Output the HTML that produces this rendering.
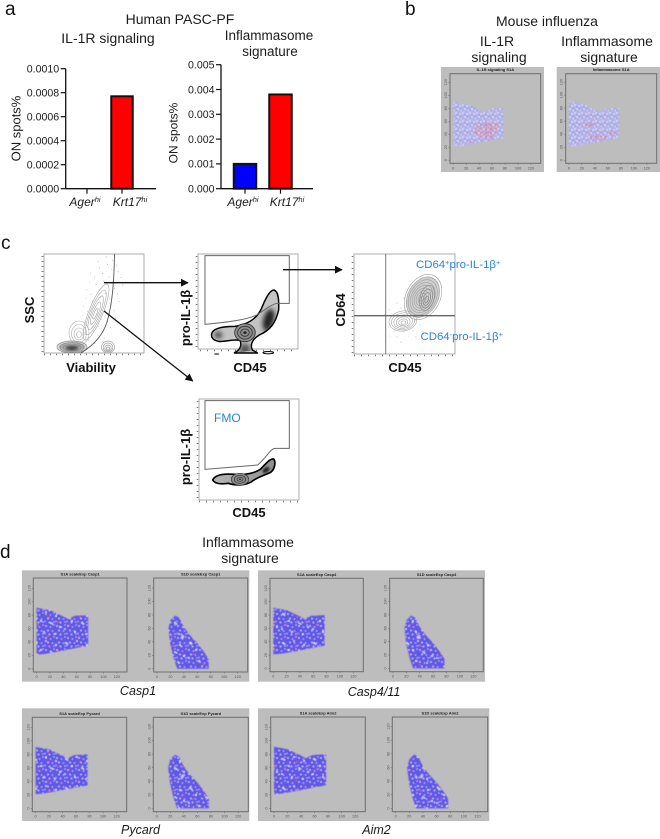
<!DOCTYPE html>
<html lang="en">
<head>
<meta charset="utf-8">
<title>Human PASC-PF and mouse influenza figure</title>
<style>
html,body{margin:0;padding:0;background:#fff;}
svg{display:block;font-family:"Liberation Sans",Arial,sans-serif;}
.ttl{font-size:14px;fill:#1c1c1c;text-anchor:middle;}
.letter{font-size:19px;fill:#111;}
.flowlab{font-size:13px;font-weight:bold;fill:#111;text-anchor:middle;}
.blue{font-size:11.4px;fill:#2a86d2;}
.gene{font-size:12.5px;font-style:italic;fill:#1c1c1c;text-anchor:middle;}
</style>
</head>
<body>
<svg id="fig" width="660" height="839" viewBox="0 0 660 839" xmlns="http://www.w3.org/2000/svg">
<defs>
  <pattern id="speckD" width="11" height="12" patternUnits="userSpaceOnUse">
    <rect width="11" height="12" fill="#6258e6"/>
    <g fill="#ffffff">
      <circle cx="2" cy="2" r=".65"/><circle cx="6.500" cy="3" r=".55"/><circle cx="10" cy="1" r=".5"/><circle cx="4" cy="6.500" r=".65"/>
      <circle cx="8.500" cy="7" r=".55"/><circle cx="1" cy="9.500" r=".5"/><circle cx="5.500" cy="10.500" r=".65"/><circle cx="10" cy="10" r=".5"/>
    </g>
  </pattern>
  <pattern id="speckO" width="31" height="29" patternUnits="userSpaceOnUse">
    <g fill="#ffffff">
      <circle cx="4" cy="5" r=".9"/><circle cx="5.500" cy="6" r=".7"/><circle cx="15" cy="3" r=".8"/><circle cx="25" cy="7" r=".9"/>
      <circle cx="10" cy="12" r=".9"/><circle cx="20" cy="14" r=".8"/><circle cx="21.500" cy="15" r=".7"/><circle cx="29" cy="18" r=".9"/>
      <circle cx="3" cy="20" r=".8"/><circle cx="13" cy="23" r=".9"/><circle cx="24" cy="25" r=".8"/>
    </g>
    <g fill="#ee5f70"><circle cx="18" cy="8" r=".8"/><circle cx="7" cy="16" r=".7"/><circle cx="27" cy="13" r=".7"/><circle cx="17" cy="27" r=".7"/></g>
  </pattern>
  <pattern id="speckB" width="7" height="8" patternUnits="userSpaceOnUse">
    <rect width="7" height="8" fill="#b4b3e8"/>
    <g fill="#f4f2fb"><circle cx="1" cy="1" r=".8"/><circle cx="5" cy="2" r=".7"/><circle cx="3" cy="5" r=".8"/><circle cx="6.500" cy="6.500" r=".6"/></g>
    <g fill="#6f6cd8"><circle cx="3" cy="2.500" r=".5"/><circle cx="1" cy="6" r=".5"/><circle cx="5.500" cy="4.500" r=".5"/></g>
  </pattern>
  <pattern id="speckR" width="5" height="4" patternUnits="userSpaceOnUse">
    <circle cx="1" cy="1" r="1" fill="#ee6a72"/><circle cx="3.500" cy="3" r=".9" fill="#f08a84"/>
  </pattern>
  <pattern id="stipple" width="19" height="17" patternUnits="userSpaceOnUse">
    <g fill="#666"><circle cx="2" cy="2" r=".4"/><circle cx="9" cy="4" r=".35"/><circle cx="5" cy="9" r=".4"/><circle cx="14" cy="8" r=".35"/><circle cx="17" cy="14" r=".4"/><circle cx="10" cy="13" r=".3"/></g>
  </pattern>
  <filter id="soft" x="-5%" y="-5%" width="110%" height="110%"><feGaussianBlur stdDeviation="0.4"/></filter>
  <filter id="soft2" x="-20%" y="-20%" width="140%" height="140%"><feGaussianBlur stdDeviation="3"/></filter>
  <filter id="soft3" x="-50%" y="-50%" width="200%" height="200%"><feGaussianBlur stdDeviation="7"/></filter>
  <filter id="soft1" x="-20%" y="-20%" width="140%" height="140%"><feGaussianBlur stdDeviation="1.3"/></filter>
  <marker id="arrowhead" viewBox="0 0 10 10" refX="9" refY="5" markerWidth="8" markerHeight="8" markerUnits="userSpaceOnUse" orient="auto"><path d="M0 0L10 5L0 10Z" fill="#111"/></marker>
</defs>

<!-- Panel letters -->
<text class="letter" x="5" y="15">a</text>
<text class="letter" x="405" y="15">b</text>
<text class="letter" x="1" y="249">c</text>
<text class="letter" x="0" y="558">d</text>

<!-- Titles -->
<text class="ttl" x="180" y="24">Human PASC-PF</text>
<text class="ttl" x="108" y="43">IL-1R signaling</text>
<text class="ttl" x="269" y="40" style="font-size:13.5px">Inflammasome</text>
<text class="ttl" x="270" y="56" style="font-size:13.5px">signature</text>
<text class="ttl" x="547" y="26">Mouse influenza</text>
<text class="ttl" x="497" y="46">IL-1R</text>
<text class="ttl" x="499" y="62">signaling</text>
<text class="ttl" x="607" y="46">Inflammasome</text>
<text class="ttl" x="609" y="62">signature</text>
<text class="ttl" x="248" y="547">Inflammasome</text>
<text class="ttl" x="250" y="563">signature</text>

<g id="barLayer"></g>
<g id="spatialLayer"></g>

<!-- Flow plot 1 -->
<g>
  <clipPath id="clipF1"><rect x="44" y="254" width="100" height="99"/></clipPath>
  <rect x="44" y="254" width="100" height="99" fill="#fff" stroke="#9a9a9a" stroke-width=".8"/>
  <g clip-path="url(#clipF1)">
    <ellipse cx="102" cy="300" rx="20" ry="48" fill="url(#stipple)" transform="rotate(12 102 300)"/>
    <g id="contoursF1"></g>
    <ellipse cx="72" cy="347" rx="14" ry="5" fill="#8a8a8a" opacity=".75" filter="url(#soft1)"/>
    <ellipse cx="72" cy="348" rx="6" ry="2" fill="#3c3c3c" filter="url(#soft1)"/>
    <path d="M114.500 254C114 285 112 305 107 322C103 335 94 345 81 353" fill="none" stroke="#555" stroke-width=".9"/>
  </g>
  <line x1="42.500" y1="256" x2="42.500" y2="353" stroke="#888" stroke-width="2" stroke-dasharray="1 4"/>
  <line x1="44" y1="354.500" x2="144" y2="354.500" stroke="#777" stroke-width="1.600" stroke-dasharray="1 5"/>
</g>

<!-- Flow plot 2 -->
<g>
  <rect x="198" y="254" width="100" height="95" fill="#fff" stroke="#9a9a9a" stroke-width=".8"/>
  <g transform="translate(0 235) scale(.3333)">
    <path d="M635 297C638 280 665 274 705 274C745 268 775 250 788 212C798 188 810 165 822 165C836 170 837 195 836 225C828 262 812 285 778 300C758 312 748 330 758 346C768 350 772 352 772 354L702 354C722 345 726 330 720 316C695 312 675 322 655 319C640 316 633 308 635 297Z" fill="#c4c4c4" stroke="#000" stroke-width="4.500"/>
    <clipPath id="clipBlob2"><path d="M635 297C638 280 665 274 705 274C745 268 775 250 788 212C798 188 810 165 822 165C836 170 837 195 836 225C828 262 812 285 778 300C758 312 748 330 758 346L702 354C722 345 726 330 720 316C695 312 675 322 655 319C640 316 633 308 635 297Z"/></clipPath>
    <g clip-path="url(#clipBlob2)">
      <ellipse cx="806" cy="255" rx="16" ry="34" fill="#222" filter="url(#soft3)" transform="rotate(15 806 255)"/>
      <ellipse cx="655" cy="300" rx="12" ry="10" fill="#444" filter="url(#soft3)"/>
      <ellipse cx="735" cy="345" rx="16" ry="20" fill="#555" filter="url(#soft3)"/>
    </g>
    <path d="M615 62H868V205H830C810 210 795 225 770 240C740 255 680 262 615 268Z" fill="none" stroke="#666" stroke-width="3"/>
    <ellipse cx="735" cy="293" rx="31" ry="27" fill="#8c8c8c" stroke="#333" stroke-width="2.500"/>
    <ellipse cx="735" cy="293" rx="22" ry="19" fill="none" stroke="#333" stroke-width="2.500"/>
    <ellipse cx="735" cy="293" rx="13" ry="11" fill="none" stroke="#333" stroke-width="2.500"/>
    <ellipse cx="735" cy="293" rx="5" ry="4" fill="#222"/>
    <ellipse cx="805" cy="353" rx="16" ry="3.500" fill="none" stroke="#000" stroke-width="3"/>
    <ellipse cx="650" cy="357" rx="8" ry="2" fill="#222"/>
  </g>
  <line x1="196.500" y1="256" x2="196.500" y2="349" stroke="#777" stroke-width="1.600" stroke-dasharray="1 5"/>
  <line x1="200" y1="350.500" x2="298" y2="350.500" stroke="#777" stroke-width="1.600" stroke-dasharray="1 6"/>
</g>

<!-- Flow plot 3 -->
<g>
  <clipPath id="clipF3"><rect x="354" y="254" width="101" height="100"/></clipPath>
  <rect x="354" y="254" width="101" height="100" fill="#fff" stroke="#9a9a9a" stroke-width=".8"/>
  <g clip-path="url(#clipF3)">
    <ellipse cx="405" cy="320" rx="22" ry="24" fill="url(#stipple)"/>
    <ellipse cx="423" cy="297" rx="15" ry="22" fill="#cfcfcf" transform="rotate(28 423 297)"/>
    <g id="contoursF3"></g>
  </g>
  <line x1="385.700" y1="254" x2="385.700" y2="354" stroke="#777" stroke-width="1"/>
  <line x1="354" y1="315.700" x2="455" y2="315.700" stroke="#666" stroke-width="1.300"/>
  <line x1="352.500" y1="256" x2="352.500" y2="354" stroke="#777" stroke-width="1.600" stroke-dasharray="1 5"/>
  <line x1="354" y1="355.500" x2="455" y2="355.500" stroke="#777" stroke-width="1.600" stroke-dasharray="1 6"/>
</g>

<!-- Flow plot 4 -->
<g>
  <linearGradient id="g4" x1="0" y1="0" x2="1" y2="0"><stop offset="0" stop-color="#b5b5b5"/><stop offset="1" stop-color="#8f8f8f"/></linearGradient>
  <rect x="199" y="399" width="100" height="101" fill="#fff" stroke="#9a9a9a" stroke-width=".8"/>
  <g transform="translate(160 385) scale(.3333)">
    <path d="M135 47H388V190H345C330 192 322 215 293 240L135 253Z" fill="none" stroke="#666" stroke-width="3"/>
    <path d="M158 285C165 270 190 265 225 268C255 270 285 265 302 252C318 236 330 220 341 222C348 230 345 252 332 262C310 272 290 278 275 290C255 302 225 302 205 295C185 298 165 298 158 285Z" fill="url(#g4)" stroke="#000" stroke-width="5"/>
    <ellipse cx="240" cy="283" rx="26" ry="18" fill="#8a8a8a" stroke="#333" stroke-width="2"/>
    <ellipse cx="240" cy="283" rx="17" ry="12" fill="none" stroke="#333" stroke-width="2"/>
    <ellipse cx="240" cy="283" rx="9" ry="6" fill="none" stroke="#333" stroke-width="2"/>
    <ellipse cx="240" cy="283" rx="3" ry="2" fill="#222"/>
    <ellipse cx="318" cy="255" rx="12" ry="7" fill="#222" transform="rotate(-40 318 255)" filter="url(#soft2)"/>
  </g>
  <line x1="197.500" y1="401" x2="197.500" y2="500" stroke="#777" stroke-width="1.600" stroke-dasharray="1 5"/>
  <line x1="199" y1="501.500" x2="299" y2="501.500" stroke="#777" stroke-width="1.600" stroke-dasharray="1 6"/>
</g>

<!-- Flow labels -->
<text class="flowlab" transform="translate(34 310) rotate(-90)">SSC</text>
<text class="flowlab" x="91" y="372">Viability</text>
<text class="flowlab" transform="translate(190 318) rotate(-90)">pro-IL-1β</text>
<text class="flowlab" x="250" y="372">CD45</text>
<text class="flowlab" transform="translate(345 310) rotate(-90)">CD64</text>
<text class="flowlab" x="405" y="372">CD45</text>
<text class="flowlab" transform="translate(190 457) rotate(-90)">pro-IL-1β</text>
<text class="flowlab" x="249" y="517">CD45</text>
<text class="blue" x="416" y="268">CD64<tspan dy="-3" font-size="7.500">+</tspan><tspan dy="3">pro-IL-1β</tspan><tspan dy="-3" font-size="7.500">+</tspan></text>
<text class="blue" x="420.500" y="340">CD64<tspan dy="-3" font-size="7.500">-</tspan><tspan dy="3">pro-IL-1β</tspan><tspan dy="-3" font-size="7.500">+</tspan></text>
<text class="blue" x="214" y="422" style="font-size:12px">FMO</text>

<!-- Arrows -->
<line x1="104" y1="282.700" x2="188" y2="282.700" stroke="#111" stroke-width="1.300" marker-end="url(#arrowhead)"/>
<line x1="104" y1="311" x2="192.700" y2="381" stroke="#111" stroke-width="1.300" marker-end="url(#arrowhead)"/>
<line x1="283" y1="269.700" x2="342" y2="269.700" stroke="#111" stroke-width="1.300" marker-end="url(#arrowhead)"/>

<!-- Gene names -->
<text class="gene" x="138" y="695">Casp1</text>
<text class="gene" x="374" y="696">Casp4/11</text>
<text class="gene" x="140.500" y="834">Pycard</text>
<text class="gene" x="376.500" y="834">Aim2</text>

<script>
// ---- bar chart data ----
const barCategories = ['Ager', 'Krt17'];
const il1rValues = [0, 0.00077];
const inflammasomeValues = [0.001, 0.0038];
const il1rTicks = ['0.0000', '0.0002', '0.0004', '0.0006', '0.0008', '0.0010'];
const inflammasomeTicks = ['0.000', '0.001', '0.002', '0.003', '0.004', '0.005'];
const barColors = ['#0000ff', '#ff0000'];

// ---- spatial tissue outlines, in plot units (x, y pairs) ----
const tissueS1A = [[0,91],[20,87.5],[40,78],[47,74],[57,79],[77,80],[77,34],[60,31],[35,26],[12,22],[0,21]];
const tissueS1D = [[17,60],[20,72],[27,79],[33,76],[40,62],[48,51],[60,38],[70,25],[77,14],[77,0],[30,0],[25,15],[20,35],[18,50]];
const tissueS1DHole = [38, 47];
const spatialAxisTicks = [0, 20, 40, 60, 80, 100, 120];

const NS = 'http://www.w3.org/2000/svg';
function mk(tag, parent, attrs) {
  const el = document.createElementNS(NS, tag);
  for (const k in attrs) el.setAttribute(k, attrs[k]);
  parent.appendChild(el);
  return el;
}

function drawBarChart(parent, name, values, ticks, left, right, top, bottom, centers, barW, labelCenters, titleX, titleY, titleSize) {
  const g = mk('g', parent, {});
  
  
  const maxV = parseFloat(ticks[ticks.length - 1]);
  const yScale = function (v) { return bottom - (v / maxV) * (bottom - top); };
  values.forEach(function (v, i) {
    if (v <= 0) return;
    const bar = mk('rect', g, {
      x: centers[i] - barW / 2, y: yScale(v), width: barW, height: bottom - yScale(v),
      fill: barColors[i], stroke: '#111', 'stroke-width': 2
    });
    
    
  });
  const yAxis = mk('line', g, { x1: left, y1: top, x2: left, y2: bottom, stroke: '#111', 'stroke-width': 1.3 });
  
  
  const xAxis = mk('line', g, { x1: left, y1: bottom, x2: right, y2: bottom, stroke: '#111', 'stroke-width': 1.3 });
  
  
  ticks.forEach(function (t) {
    const y = yScale(parseFloat(t));
    const tick = mk('line', g, { x1: left - 5, y1: y, x2: left, y2: y, stroke: '#111', 'stroke-width': 1.2 });
    
    
    const lab = mk('text', g, { x: left - 6.5, y: y + 3.8, 'text-anchor': 'end', 'font-size': 10.6, fill: '#1c1c1c' });
    lab.textContent = t;
    
    
  });
  barCategories.forEach(function (c, i) {
    const tick = mk('line', g, { x1: centers[i], y1: bottom, x2: centers[i], y2: bottom + 5, stroke: '#111', 'stroke-width': 1.2 });
    
    
    const lab = mk('text', g, { x: labelCenters[i], y: 206, 'text-anchor': 'middle', 'font-size': 12, 'font-style': 'italic', fill: '#1c1c1c' });
    
    
    lab.appendChild(document.createTextNode(c));
    const sup = mk('tspan', lab, { dy: -4, 'font-size': 7.5 });
    sup.textContent = 'hi';
  });
  const yt = mk('text', g, {
    transform: 'translate(' + titleX + ' ' + titleY + ') rotate(-90)',
    'text-anchor': 'middle', 'font-size': titleSize, fill: '#1c1c1c'
  });
  yt.textContent = 'ON spots%';
  
  
}

const barLayer = document.getElementById('barLayer');
drawBarChart(barLayer, 'il1r-bar-chart', il1rValues, il1rTicks, 65.7, 156, 68.7, 188.7, [87, 122], 21.5, [85, 130], 20.5, 128.5, 13);
drawBarChart(barLayer, 'inflammasome-bar-chart', inflammasomeValues, inflammasomeTicks, 221, 313, 64.7, 188.7, [245, 280.5], 22.5, [243, 287], 177.5, 133, 12);

// ---- spatial plots ----
let clipCounter = 0;
function drawSpatial(parent, name, title, shape, speckle, left, right, top, bottom, hot, hole) {
  const g = mk('g', parent, {});
  
  
  const frame = mk('rect', g, { x: left, y: top, width: right - left, height: bottom - top, fill: 'none', stroke: '#6e6e6e', 'stroke-width': 1 });
  
  
  const unit = (right - left) * 0.00715;
  const xs = function (u) { return left + (right - left) * 0.035 + u * unit; };
  const ys = function (u) { return bottom - (bottom - top) * 0.035 - u * unit; };
  const pts = shape.map(function (p) { return xs(p[0]).toFixed(1) + ',' + ys(p[1]).toFixed(1); }).join(' ');
  const id = 'tissueClip' + (clipCounter++);
  const cp = mk('clipPath', g, { id: id });
  mk('polygon', cp, { points: pts });
  const tissueGroup = mk('g', g, { filter: 'url(#soft)' });
  const tissue = mk('polygon', tissueGroup, { points: pts, fill: 'url(#' + speckle + ')' });
  
  
  if (speckle === 'speckD') {
    mk('polygon', tissueGroup, { points: pts, fill: 'url(#speckO)' });
  }
  if (hole) {
    mk('ellipse', tissueGroup, { cx: xs(hole[0]), cy: ys(hole[1]), rx: 1.4, ry: 2.2, fill: '#c9c6ec', transform: 'rotate(30 ' + xs(hole[0]) + ' ' + ys(hole[1]) + ')' });
  }
  if (hot) {
    const hg = mk('g', tissueGroup, { 'clip-path': 'url(#' + id + ')' });
    hot.forEach(function (h) {
      mk('ellipse', hg, { cx: xs(h[0]), cy: ys(h[1]), rx: h[2], ry: h[3], fill: 'url(#speckR)' });
    });
  }
  spatialAxisTicks.forEach(function (t) {
    mk('line', g, { x1: xs(t), y1: bottom, x2: xs(t), y2: bottom + 1.6, stroke: '#666', 'stroke-width': 0.5 });
    mk('line', g, { x1: left - 1.6, y1: ys(t), x2: left, y2: ys(t), stroke: '#666', 'stroke-width': 0.5 });
    const xl = mk('text', g, { x: xs(t), y: bottom + 6, 'text-anchor': 'middle', 'font-size': 3.8, fill: '#555' });
    xl.textContent = t;
    
    
    const yl = mk('text', g, { transform: 'translate(' + (left - 3) + ' ' + ys(t) + ') rotate(-90)', 'text-anchor': 'middle', 'font-size': 3.8, fill: '#555' });
    yl.textContent = t;
    
    
  });
  const tl = mk('text', g, { x: (left + right) / 2, y: top - 2.5, 'text-anchor': 'middle', 'font-size': 4, 'font-weight': 'bold', fill: '#222' });
  tl.textContent = title;
  
  
}

function grayPanel(parent, name, x, y, w, h) {
  const r = mk('rect', parent, { x: x, y: y, width: w, height: h, fill: '#bdbdbd' });
  
  
}

const sl = document.getElementById('spatialLayer');
grayPanel(sl, 'mouse-il1r-background', 441, 67, 103, 105);
grayPanel(sl, 'mouse-inflammasome-background', 556.7, 67, 103.3, 105);
grayPanel(sl, 'casp1-background', 22, 570.3, 227.3, 111.4);
grayPanel(sl, 'casp4-background', 258, 570.3, 227, 111.4);
grayPanel(sl, 'pycard-background', 22, 708.3, 227.3, 112.7);
grayPanel(sl, 'aim2-background', 258, 708.3, 231.3, 112.7);

drawSpatial(sl, 'mouse-il1r-plot', 'IL-1R signaling S1A', tissueS1A, 'speckB', 450, 540.7, 73.7, 163.3,
  [[50, 45, 11, 8], [28, 25, 3, 3], [60, 52, 7, 5]]);
drawSpatial(sl, 'mouse-inflammasome-plot', 'Inflammasome S1A', tissueS1A, 'speckB', 565.7, 656.7, 73.7, 163.3,
  [[30, 55, 6, 3], [45, 35, 9, 3], [68, 40, 3, 3]]);
drawSpatial(sl, 'casp1-s1a-plot', 'S1A scaleExp Casp1', tissueS1A, 'speckD', 33.3, 127, 578, 672);
drawSpatial(sl, 'casp1-s1d-plot', 'S1D scaleExp Casp1', tissueS1D, 'speckD', 153.7, 247.7, 578, 672, null, tissueS1DHole);
drawSpatial(sl, 'casp4-s1a-plot', 'S1A scaleExp Casp4', tissueS1A, 'speckD', 270, 363.3, 578.3, 671.7);
drawSpatial(sl, 'casp4-s1d-plot', 'S1D scaleExp Casp4', tissueS1D, 'speckD', 389.7, 483.3, 578.3, 671.7, null, tissueS1DHole);
drawSpatial(sl, 'pycard-s1a-plot', 'S1A scaleExp Pycard', tissueS1A, 'speckD', 32.3, 126.7, 717.3, 811.7);
drawSpatial(sl, 'pycard-s1d-plot', 'S1D scaleExp Pycard', tissueS1D, 'speckD', 153.3, 248.3, 717.3, 811.7, null, tissueS1DHole);
drawSpatial(sl, 'aim2-s1a-plot', 'S1A scaleExp Aim2', tissueS1A, 'speckD', 270.7, 365.3, 717, 811.7);
drawSpatial(sl, 'aim2-s1d-plot', 'S1D scaleExp Aim2', tissueS1D, 'speckD', 392.3, 487.7, 717, 811.7, null, tissueS1DHole);

// ---- flow cytometry contours ----
function contours(parent, cx, cy, rx, ry, rot, n, color, w) {
  for (let i = 0; i < n; i++) {
    const f = 1 - i / n;
    mk('ellipse', parent, {
      cx: cx, cy: cy + (1 - f) * 2, rx: rx * f, ry: ry * f,
      transform: 'rotate(' + rot + ' ' + cx + ' ' + cy + ')',
      fill: 'none', stroke: color, 'stroke-width': w
    });
  }
}
const f1 = document.getElementById('contoursF1');
contours(f1, 96, 312, 7, 30, 22, 5, '#a8a8a8', 0.6);
contours(f1, 108, 347, 6.5, 6, 0, 4, '#a0a0a0', 0.7);
contours(f1, 79, 333, 10, 12, 0, 4, '#b0b0b0', 0.6);
contours(f1, 72, 347, 15, 6, 0, 5, '#909090', 0.7);
const f3 = document.getElementById('contoursF3');
contours(f3, 423, 297, 17, 24, 28, 9, '#a0a0a0', 0.6);
contours(f3, 427, 298, 7, 13, 15, 4, '#8c8c8c', 0.7);
contours(f3, 403, 321, 14, 10, -10, 6, '#ababab', 0.6);
</script>
</svg>
</body>
</html>
